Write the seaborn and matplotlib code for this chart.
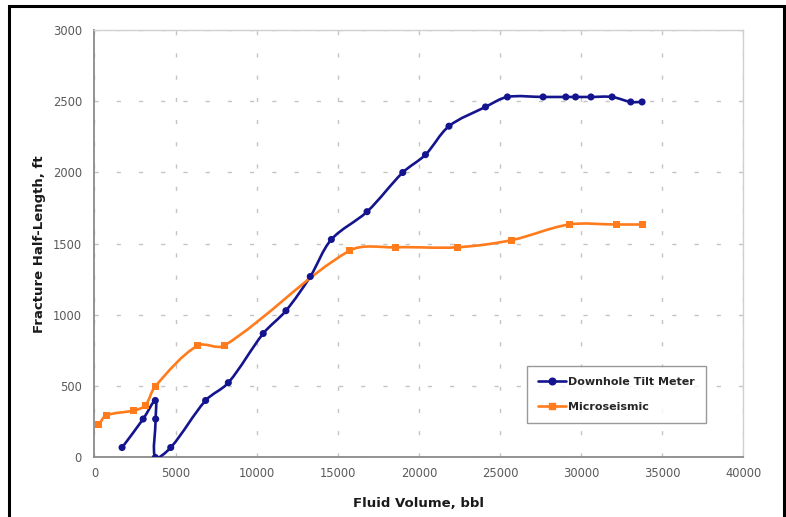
import numpy as np
import pandas as pd
import seaborn as sns
import matplotlib
matplotlib.use("Agg")
import matplotlib.pyplot as plt
from matplotlib.path import Path
from matplotlib.patches import PathPatch, Rectangle
from matplotlib.lines import Line2D

# values
tilt_volume = [1700, 3000, 3750, 3770, 3750, 4700, 6850, 8250, 10400, 11800, 13300,
               14600, 16800, 19000, 20400, 21850, 24100, 25450, 27650, 29050, 29650,
               30600, 31900, 33050, 33750]
tilt_length = [70, 270, 400, 270, 0, 70, 400, 525, 870, 1030, 1270,
               1530, 1725, 2000, 2125, 2325, 2460, 2530, 2530, 2530, 2530,
               2530, 2530, 2495, 2495]
micro_volume = [270, 720, 2430, 3130, 3750, 6350, 8000, 15700, 18550, 22350,
                25700, 29250, 32150, 33750]
micro_length = [230, 295, 330, 365, 500, 785, 785, 1450, 1475, 1475,
                1525, 1635, 1635, 1635]

x_ticks = list(range(0, 40001, 5000))
y_ticks = list(range(0, 3001, 500))

names = ["Downhole Tilt Meter", "Microseismic"]
colors = {"Downhole Tilt Meter": "#14148f", "Microseismic": "#ff7b1c"}
markers = {"Downhole Tilt Meter": "o", "Microseismic": "s"}

df = pd.concat([
    pd.DataFrame({"volume": tilt_volume, "length": tilt_length, "series": names[0]}),
    pd.DataFrame({"volume": micro_volume, "length": micro_length, "series": names[1]}),
])


def smooth_path(xs, ys, sx=649 / 40000, sy=427.5 / 3000):
    # excel-like smoothed line, tangents scaled by neighbouring segment lengths
    p = np.column_stack([np.asarray(xs) * sx, np.asarray(ys) * sy]).astype(float)
    ext = np.vstack([p[0], p, p[-1]])
    dist = lambda u, v: np.hypot(*(u - v))
    verts = [p[0]]
    codes = [Path.MOVETO]
    for i in range(len(p) - 1):
        a, b, c, d = ext[i], ext[i + 1], ext[i + 2], ext[i + 3]
        seg = dist(b, c)
        w1 = seg / (seg + dist(a, b)) if seg + dist(a, b) > 0 else 0
        w2 = seg / (seg + dist(c, d)) if seg + dist(c, d) > 0 else 0
        verts += [b + (c - a) * w1 / 3, c - (d - b) * w2 / 3, c]
        codes += [Path.CURVE4] * 3
    verts = np.array(verts) / [sx, sy]
    return Path(verts, codes)


sns.set_style("white")
plt.rcParams["font.family"] = ["DejaVu Sans"]

fig = plt.figure(figsize=(7.86, 5.17), dpi=100)
ax = fig.add_axes([0.1202, 0.1151, 0.8257, 0.8269])

for name, xs, ys in [(names[0], tilt_volume, tilt_length), (names[1], micro_volume, micro_length)]:
    ax.add_patch(PathPatch(smooth_path(xs, ys), facecolor="none", edgecolor=colors[name],
                           lw=1.9, zorder=3, capstyle="round", joinstyle="round"))

sns.scatterplot(data=df, x="volume", y="length", hue="series", style="series",
                palette=colors, markers=markers, s=26, linewidth=0, legend=False,
                zorder=4, ax=ax)

ax.set_xlim(0, 40000)
ax.set_ylim(0, 3000)
ax.set_xticks(x_ticks)
ax.set_yticks(y_ticks)
ax.grid(True, color="#c4c4c4", lw=1.0, linestyle=(0, (3, 13)))
ax.set_axisbelow(True)

for side in ["left", "bottom"]:
    ax.spines[side].set_color("#8a8a8a")
    ax.spines[side].set_linewidth(1.3)
for side in ["top", "right"]:
    ax.spines[side].set_color("#d0d0d0")
    ax.spines[side].set_linewidth(1.0)

ax.tick_params(axis="both", which="major", length=4, width=1, color="#8a8a8a",
               labelcolor="#5a5a5a", labelsize=8.3, direction="inout", pad=5)
ax.tick_params(axis="y", direction="out", length=4)

ax.set_xlabel("Fluid Volume, bbl", fontsize=9.5, fontweight="bold", color="#1a1a1a", labelpad=12)
ax.set_ylabel("Fracture Half-Length, ft", fontsize=9.5, fontweight="bold", color="#1a1a1a", labelpad=5)

handles = [Line2D([], [], color=colors[n], marker=markers[n], lw=1.9, markersize=4.8) for n in names]
leg = ax.legend(handles, names, loc="upper left", bbox_to_anchor=(0.666, 0.214),
                borderaxespad=0, frameon=True, fancybox=False, shadow=False,
                prop={"size": 8, "weight": "bold"}, handlelength=2.5, handletextpad=0.25,
                labelspacing=1.35, borderpad=1.0)
leg.get_frame().set_edgecolor("#808080")
leg.get_frame().set_linewidth(1.0)

# outer frame of the original figure, cut off at the bottom
fig.patches.append(Rectangle((9 / 786, -0.05), 775 / 786, 1.05 - 6 / 517, transform=fig.transFigure,
                             fill=False, edgecolor="black", lw=2.2, clip_on=False))

fig.savefig("out.png", dpi=100)
